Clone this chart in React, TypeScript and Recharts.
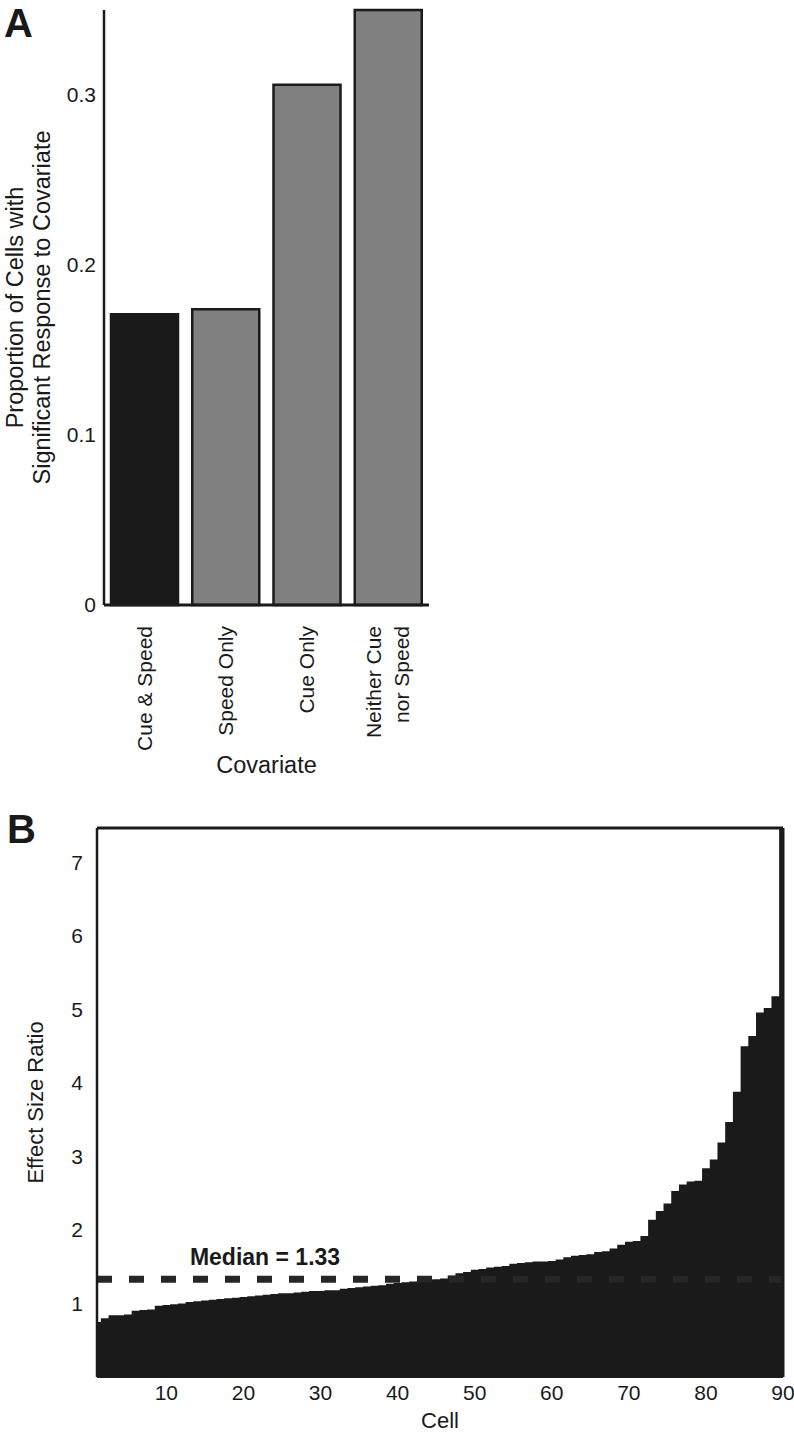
import React from 'react';
import {
  BarChart, Bar, Cell, XAxis, YAxis, AreaChart, Area, ReferenceLine, Label,
} from 'recharts';

// ---------- Panel A data ----------
const covariates = ['Cue & Speed', 'Speed Only', 'Cue Only', 'Neither Cue\nnor Speed'];
const proportions = [0.171, 0.174, 0.306, 0.35];
const barFills = ['#1a1a1a', '#808080', '#808080', '#808080'];
const yTicksA = [0, 0.1, 0.2, 0.3];

// ---------- Panel B data ----------
const effectRatios = [
  0.75, 0.80, 0.84, 0.84, 0.85, 0.90, 0.91, 0.92, 0.97, 0.98,
  0.99, 1.00, 1.02, 1.03, 1.04, 1.05, 1.06, 1.07, 1.08, 1.09,
  1.10, 1.11, 1.12, 1.13, 1.14, 1.14, 1.15, 1.16, 1.17, 1.17,
  1.18, 1.18, 1.20, 1.21, 1.22, 1.23, 1.24, 1.25, 1.27, 1.28,
  1.29, 1.30, 1.31, 1.32, 1.33, 1.34, 1.38, 1.41, 1.43, 1.46,
  1.47, 1.49, 1.50, 1.51, 1.54, 1.55, 1.56, 1.57, 1.57, 1.58,
  1.60, 1.63, 1.65, 1.66, 1.67, 1.70, 1.71, 1.75, 1.80, 1.84,
  1.85, 1.92, 2.14, 2.26, 2.36, 2.53, 2.62, 2.66, 2.67, 2.84,
  2.96, 3.19, 3.47, 3.88, 4.50, 4.64, 4.96, 5.02, 5.18, 9.00,
];
const cellTicks = [10, 20, 30, 40, 50, 60, 70, 80, 90];
const yTicksB = [1, 2, 3, 4, 5, 6, 7];
const medianValue = 1.33;
const medianText = 'Median = 1.33';

const FONT = '"Liberation Sans", Arial, Helvetica, sans-serif';
const INK = '#1a1a1a';

const dataA = covariates.map((name, i) => ({ name, value: proportions[i] }));
const dataB = effectRatios.map((v, i) => ({ cell: i + 1, ratio: v }));

const CategoryTick = (props: any) => {
  const { x, y, payload } = props;
  const lines = String(payload.value).split('\n');
  const fs = 21;
  return (
    <g transform={`translate(${x},${y + 21}) rotate(-90)`}>
      <text textAnchor="end" fontSize={fs} fill={INK} fontFamily={FONT}>
        {lines.length === 1 ? (
          <tspan x={0} y={7}>{lines[0]}</tspan>
        ) : (
          lines.map((l, i) => (
            <tspan key={i} x={0} y={-7 + i * 28}>{l}</tspan>
          ))
        )}
      </text>
    </g>
  );
};

const YLabelA = (props: any) => {
  const vb = props.viewBox || {};
  const cy = vb.y + vb.height / 2;
  const x1 = 23;
  const x2 = 50;
  return (
    <g>
      <text transform={`rotate(-90, ${x1}, ${cy})`} x={x1} y={cy} textAnchor="middle" fontSize={23.5} fill={INK} fontFamily={FONT}>
        Proportion of Cells with
      </text>
      <text transform={`rotate(-90, ${x2}, ${cy})`} x={x2} y={cy} textAnchor="middle" fontSize={23.5} fill={INK} fontFamily={FONT}>
        Significant Response to Covariate
      </text>
    </g>
  );
};

const XLabelA = (props: any) => {
  const vb = props.viewBox || {};
  return (
    <text x={vb.x + vb.width / 2} y={vb.y + 168} textAnchor="middle" fontSize={23.5} fill={INK} fontFamily={FONT}>
      Covariate
    </text>
  );
};

const YLabelB = (props: any) => {
  const vb = props.viewBox || {};
  const cy = vb.y + vb.height / 2;
  const x = 43;
  return (
    <text transform={`rotate(-90, ${x}, ${cy})`} x={x} y={cy} textAnchor="middle" fontSize={22} fill={INK} fontFamily={FONT}>
      Effect Size Ratio
    </text>
  );
};

const XLabelB = (props: any) => {
  const vb = props.viewBox || {};
  return (
    <text x={vb.x + vb.width / 2} y={vb.y + 51} textAnchor="middle" fontSize={22} fill={INK} fontFamily={FONT}>
      Cell
    </text>
  );
};

const MedianLabel = (props: any) => {
  const vb = props.viewBox || {};
  return (
    <text x={vb.x + 168} y={vb.y - 14} textAnchor="middle" fontSize={23} fontWeight="bold" fill={INK} fontFamily={FONT}>
      {medianText}
    </text>
  );
};

export default function App() {
  return (
    <div style={{ position: 'absolute', left: 0, top: 0, width: 794, height: 1435, background: '#fff', fontFamily: FONT }}>
      <svg width={794} height={1435} style={{ position: 'absolute', left: 0, top: 0, pointerEvents: 'none' }}>
        <text x={4} y={37} fontSize={40} fontWeight="bold" fill={INK} fontFamily={FONT}>A</text>
        <text x={7} y={843} fontSize={40} fontWeight="bold" fill={INK} fontFamily={FONT}>B</text>
      </svg>

      <div style={{ position: 'absolute', left: 0, top: 0 }}>
        <BarChart width={450} height={800} data={dataA} margin={{ top: 10, right: 21, left: 44, bottom: 25 }}>
          <XAxis
            dataKey="name"
            interval={0}
            tickLine={false}
            tickSize={0}
            tickMargin={0}
            height={170}
            axisLine={{ stroke: INK, strokeWidth: 3 }}
            tick={<CategoryTick />}
          >
            <Label content={<XLabelA />} />
          </XAxis>
          <YAxis
            width={60}
            domain={[0, 0.35]}
            ticks={yTicksA}
            tickLine={false}
            tickMargin={2}
            axisLine={{ stroke: INK, strokeWidth: 2.5 }}
            tick={{ fontSize: 21, fill: INK, fontFamily: FONT }}
            tickFormatter={(v: number) => String(v)}
          >
            <Label content={<YLabelA />} />
          </YAxis>
          <Bar dataKey="value" barSize={67} stroke={INK} strokeWidth={2.5} isAnimationActive={false}>
            {dataA.map((d, i) => (
              <Cell key={d.name} fill={barFills[i]} />
            ))}
          </Bar>
        </BarChart>
      </div>

      <div style={{ position: 'absolute', left: 0, top: 800 }}>
        <AreaChart width={794} height={635} data={dataB} margin={{ top: 27, right: 10, left: 37, bottom: 18 }}>
          <XAxis
            dataKey="cell"
            type="number"
            domain={[1, 90]}
            ticks={cellTicks}
            allowDataOverflow
            tickLine={false}
            axisLine={{ stroke: INK, strokeWidth: 2 }}
            height={40}
            tick={{ fontSize: 21, fill: INK, fontFamily: FONT }}
          >
            <Label content={<XLabelB />} />
          </XAxis>
          <XAxis
            xAxisId="top"
            orientation="top"
            type="number"
            dataKey="cell"
            domain={[1, 90]}
            height={1}
            tick={false}
            tickLine={false}
            axisLine={{ stroke: INK, strokeWidth: 3 }}
          />
          <YAxis
            width={60}
            domain={[0, 7.47]}
            ticks={yTicksB}
            allowDataOverflow
            tickLine={false}
            tickMargin={8}
            axisLine={{ stroke: INK, strokeWidth: 2.5 }}
            tick={{ fontSize: 21, fill: INK, fontFamily: FONT }}
          >
            <Label content={<YLabelB />} />
          </YAxis>
          <YAxis
            yAxisId="right"
            orientation="right"
            width={1}
            domain={[0, 7.47]}
            tick={false}
            tickLine={false}
            axisLine={{ stroke: INK, strokeWidth: 3 }}
          />
          <Area
            type="step"
            dataKey="ratio"
            fill={INK}
            fillOpacity={1}
            stroke="none"
            isAnimationActive={false}
            dot={false}
            activeDot={false}
          />
          <ReferenceLine
            y={medianValue}
            stroke="#262626"
            strokeWidth={7}
            strokeDasharray="15 17"
            label={<MedianLabel />}
          />
        </AreaChart>
      </div>
    </div>
  );
}
